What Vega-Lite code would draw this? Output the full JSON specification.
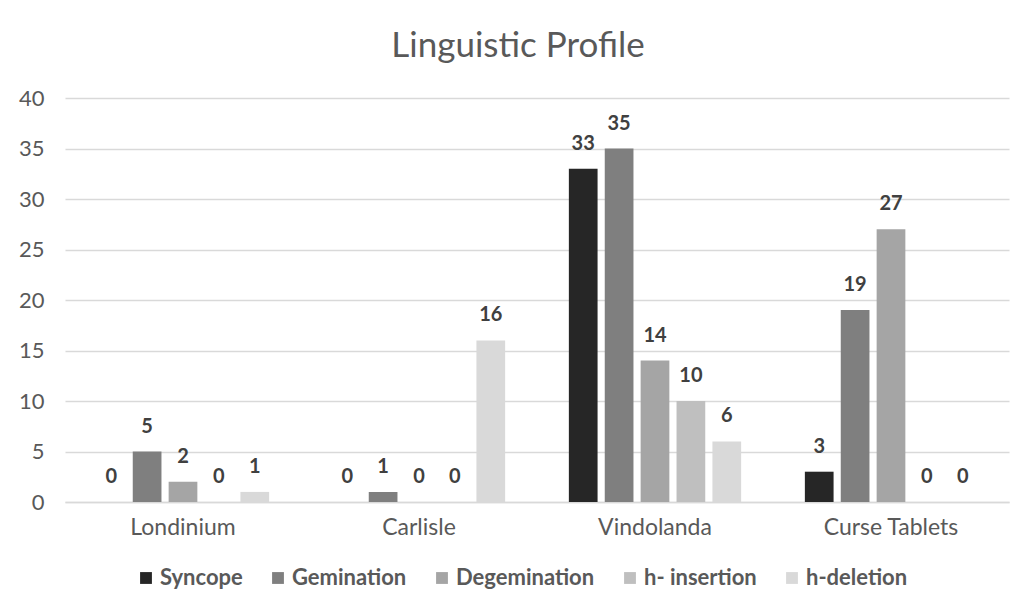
{
  "$schema": "https://vega.github.io/schema/vega-lite/v6.json",
  "width": 944,
  "height": 404,
  "autosize": {"type": "none"},
  "padding": {"left": 65, "top": 98, "right": 25, "bottom": 107},
  "background": "white",
  "title": {
    "text": "Linguistic Profile",
    "font": "Lato",
    "fontSize": 35,
    "fontWeight": "normal",
    "color": "#595959",
    "anchor": "middle",
    "offset": 23,
    "dx": -19
  },
  "data": {
    "values": [
      {"site": "Londinium", "feature": "Syncope", "count": 0},
      {"site": "Londinium", "feature": "Gemination", "count": 5},
      {"site": "Londinium", "feature": "Degemination", "count": 2},
      {"site": "Londinium", "feature": "h- insertion", "count": 0},
      {"site": "Londinium", "feature": "h-deletion", "count": 1},
      {"site": "Carlisle", "feature": "Syncope", "count": 0},
      {"site": "Carlisle", "feature": "Gemination", "count": 1},
      {"site": "Carlisle", "feature": "Degemination", "count": 0},
      {"site": "Carlisle", "feature": "h- insertion", "count": 0},
      {"site": "Carlisle", "feature": "h-deletion", "count": 16},
      {"site": "Vindolanda", "feature": "Syncope", "count": 33},
      {"site": "Vindolanda", "feature": "Gemination", "count": 35},
      {"site": "Vindolanda", "feature": "Degemination", "count": 14},
      {"site": "Vindolanda", "feature": "h- insertion", "count": 10},
      {"site": "Vindolanda", "feature": "h-deletion", "count": 6},
      {"site": "Curse Tablets", "feature": "Syncope", "count": 3},
      {"site": "Curse Tablets", "feature": "Gemination", "count": 19},
      {"site": "Curse Tablets", "feature": "Degemination", "count": 27},
      {"site": "Curse Tablets", "feature": "h- insertion", "count": 0},
      {"site": "Curse Tablets", "feature": "h-deletion", "count": 0}
    ]
  },
  "encoding": {
    "x": {
      "field": "site",
      "type": "nominal",
      "sort": ["Londinium", "Carlisle", "Vindolanda", "Curse Tablets"],
      "scale": {"paddingInner": 0.27, "paddingOuter": 0.135},
      "axis": {
        "title": null,
        "labelAngle": 0,
        "labelFont": "Lato",
        "labelFontSize": 23,
        "labelColor": "#595959",
        "labelPadding": 14,
        "ticks": false,
        "domain": true,
        "domainColor": "#d9d9d9",
        "domainWidth": 1.5
      }
    },
    "xOffset": {
      "field": "feature",
      "type": "nominal",
      "sort": ["Syncope", "Gemination", "Degemination", "h- insertion", "h-deletion"],
      "scale": {"paddingInner": 0.2, "paddingOuter": 0}
    },
    "y": {
      "field": "count",
      "type": "quantitative",
      "scale": {"domain": [0, 40], "nice": false},
      "axis": {
        "title": null,
        "values": [0, 5, 10, 15, 20, 25, 30, 35, 40],
        "labelFont": "Lato",
        "labelFontSize": 22,
        "labelColor": "#595959",
        "labelPadding": 21,
        "ticks": false,
        "domain": false,
        "gridColor": "#d9d9d9",
        "gridWidth": 1.5
      }
    }
  },
  "layer": [
    {
      "mark": {"type": "bar"},
      "encoding": {
        "color": {
          "field": "feature",
          "type": "nominal",
          "sort": ["Syncope", "Gemination", "Degemination", "h- insertion", "h-deletion"],
          "scale": {
            "domain": ["Syncope", "Gemination", "Degemination", "h- insertion", "h-deletion"],
            "range": ["#262626", "#7f7f7f", "#a5a5a5", "#bfbfbf", "#d9d9d9"]
          },
          "legend": {
            "title": null,
            "orient": "none",
            "legendX": 70,
            "legendY": 469,
            "direction": "horizontal",
            "symbolType": "square",
            "symbolSize": 140,
            "symbolStrokeWidth": 0,
            "labelFont": "Lato",
            "labelFontSize": 22,
            "labelFontWeight": "bold",
            "labelColor": "#595959",
            "labelOffset": 3,
            "columnPadding": 24
          }
        }
      }
    },
    {
      "mark": {
        "type": "text",
        "baseline": "alphabetic",
        "dy": -19,
        "font": "Lato",
        "fontSize": 20,
        "fontWeight": "bold",
        "color": "#404040"
      },
      "encoding": {
        "text": {"field": "count", "type": "quantitative"}
      }
    }
  ],
  "config": {
    "view": {"stroke": null}
  }
}
